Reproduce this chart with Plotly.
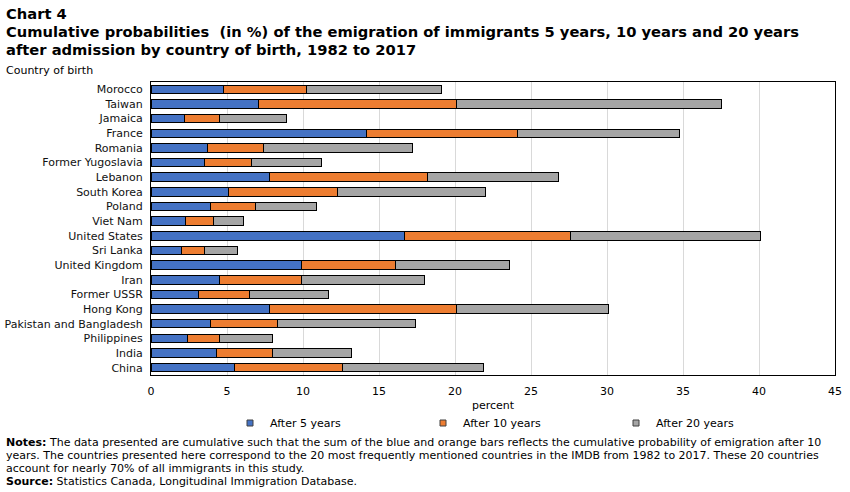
import plotly.graph_objects as go

countries = ["Morocco", "Taiwan", "Jamaica", "France", "Romania", "Former Yugoslavia",
             "Lebanon", "South Korea", "Poland", "Viet Nam", "United States", "Sri Lanka",
             "United Kingdom", "Iran", "Former USSR", "Hong Kong", "Pakistan and Bangladesh",
             "Philippines", "India", "China"]

# segment lengths (percent)
after_5 = [4.8, 7.1, 2.2, 14.2, 3.7, 3.5, 7.8, 5.1, 3.9, 2.3, 16.7, 2.0, 9.9, 4.5, 3.1, 7.8, 3.9, 2.4, 4.3, 5.5]
after_10 = [5.4, 13.0, 2.3, 9.9, 3.7, 3.1, 10.4, 7.2, 3.0, 1.8, 10.9, 1.5, 6.2, 5.4, 3.4, 12.3, 4.4, 2.1, 3.7, 7.1]
after_20 = [8.9, 17.4, 4.4, 10.7, 9.8, 4.6, 8.6, 9.7, 4.0, 2.0, 12.5, 2.2, 7.5, 8.1, 5.2, 10.0, 9.1, 3.5, 5.2, 9.3]

series_names = ["After 5 years", "After 10 years", "After 20 years"]
colors = ["#4472C4", "#ED7D31", "#A5A5A5"]
x_ticks = [0, 5, 10, 15, 20, 25, 30, 35, 40, 45]

FONT = "DejaVu Sans, Verdana, sans-serif"

fig = go.Figure()
for name, vals, col in zip(series_names, [after_5, after_10, after_20], colors):
    fig.add_trace(go.Bar(
        y=countries, x=vals, name=name, orientation="h",
        marker=dict(color=col, line=dict(color="black", width=1)),
        showlegend=False,
    ))
    # legend proxy with small square symbol
    fig.add_trace(go.Scatter(
        x=[None], y=[None], mode="markers", name=name,
        marker=dict(symbol="square", size=6, color=col, line=dict(color="#404040", width=1)),
        showlegend=True,
    ))

fig.update_layout(
    template="none",
    width=850, height=492,
    margin=dict(l=151, r=15, t=82, b=117, autoexpand=False),
    paper_bgcolor="white", plot_bgcolor="white",
    barmode="stack", bargap=0.42,
    font=dict(family=FONT, size=11, color="black"),
    showlegend=True,
    legend=dict(orientation="h", x=(230 - 151) / 684, xanchor="left", y=(375 - 423) / 293, yanchor="middle",
                entrywidth=148, entrywidthmode="pixels", traceorder="normal",
                font=dict(family=FONT, size=11), bgcolor="rgba(0,0,0,0)",
                itemwidth=30),
)
fig.update_xaxes(range=[0, 45], tickvals=x_ticks, ticktext=[str(t) for t in x_ticks],
                 showgrid=True, gridcolor="#D9D9D9", gridwidth=1,
                 showline=True, linecolor="black", linewidth=1, mirror=True,
                 zeroline=False, ticks="outside", ticklen=6, tickcolor="rgba(0,0,0,0)",
                 automargin=False,
                 tickfont=dict(family=FONT, size=11))
fig.update_yaxes(categoryorder="array", categoryarray=countries, autorange="reversed",
                 showline=True, linecolor="black", linewidth=1, mirror=True,
                 showgrid=False, zeroline=False, ticks="outside", ticklen=5,
                 tickcolor="rgba(0,0,0,0)", automargin=False,
                 tickfont=dict(family=FONT, size=11, color="#111111"))

def pya(py):
    return (375 - py) / 293

def pxa(px):
    return (px - 151) / 684

anns = [
    dict(text="<b>Chart 4</b>", y=pya(13), size=14.7),
    dict(text="<b>Cumulative probabilities  (in %) of the emigration of immigrants 5 years, 10 years and 20 years</b>", y=pya(32), size=14.7),
    dict(text="<b>after admission by country of birth, 1982 to 2017</b>", y=pya(50), size=14.7),
    dict(text="Country of birth", y=pya(70), size=11),
    dict(text="<b>Notes:</b> The data presented are cumulative such that the sum of the blue and orange bars reflects the cumulative probability of emigration after 10", y=pya(443), size=11),
    dict(text="years. The countries presented here correspond to the 20 most frequently mentioned countries in the IMDB from 1982 to 2017. These 20 countries", y=pya(456), size=11),
    dict(text="account for nearly 70% of all immigrants in this study.", y=pya(469), size=11),
    dict(text="<b>Source:</b> Statistics Canada, Longitudinal Immigration Database.", y=pya(482), size=11),
]
for a in anns:
    fig.add_annotation(text=a["text"], xref="paper", yref="paper", x=pxa(4), y=a["y"],
                       xanchor="left", yanchor="middle", showarrow=False,
                       font=dict(family=FONT, size=a["size"], color="black"), align="left")

fig.add_annotation(text="percent", xref="paper", yref="paper", x=pxa(493), y=pya(405),
                   xanchor="center", yanchor="middle", showarrow=False,
                   font=dict(family=FONT, size=11, color="black"))

fig.write_html("out.html")
